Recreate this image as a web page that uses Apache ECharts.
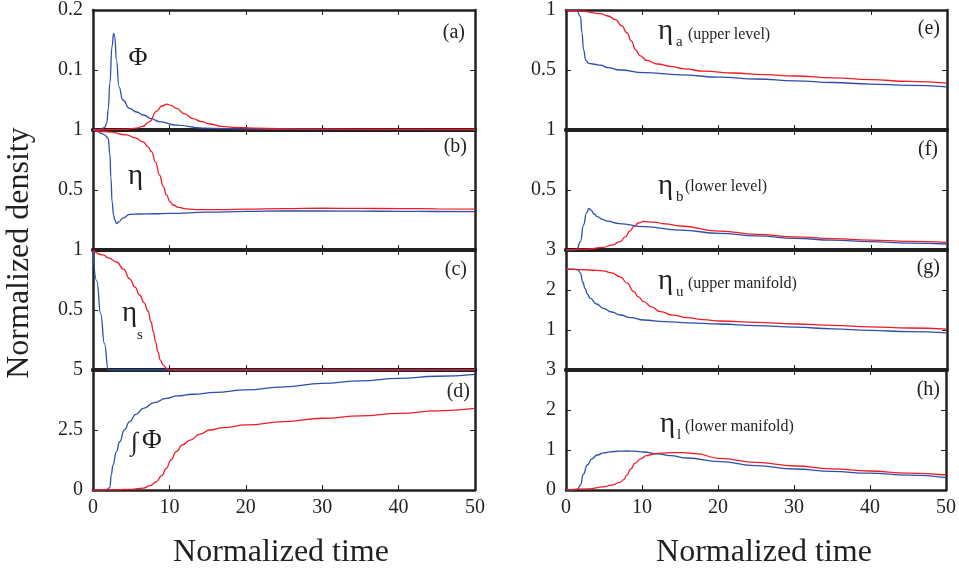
<!DOCTYPE html>
<html><head><meta charset="utf-8">
<script src="https://cdn.jsdelivr.net/npm/echarts@6/dist/echarts.min.js"></script>
<style>html,body{margin:0;padding:0;background:#fff}#c{width:959px;height:571px}</style>
</head><body><div id="c"></div>
<script>
// ---- data: [normalized time, value] ----
const phiBlue = [[0,0],[1,0.001],[1.5,0.004],[1.8,0.011],[2.0,0.035],[2.2,0.078],[2.5,0.14],[2.7,0.161],[2.85,0.155],[3.07,0.117],[3.4,0.072],[3.9,0.05],[4.8,0.036],[5.7,0.03],[6.6,0.025],[7.6,0.019],[8.7,0.014],[10.9,0.008],[14.4,0.003],[20,0.0015],[30,0.001],[50,0.0005]];
const phiRed  = [[0,0],[4,0.001],[5.7,0.003],[6.5,0.006],[7.4,0.014],[8.3,0.031],[9,0.04],[9.7,0.043],[10.2,0.041],[10.9,0.036],[12,0.027],[13.1,0.019],[14.2,0.014],[15.3,0.01],[16.8,0.006],[18.3,0.0045],[21,0.003],[25,0.002],[35,0.0012],[50,0.0008]];

const etaBlue = [[0,1],[0.5,0.99],[1,0.975],[1.5,0.96],[2.0,0.93],[2.2,0.8],[2.35,0.6],[2.5,0.4],[2.7,0.29],[2.85,0.25],[3.1,0.22],[3.4,0.235],[3.9,0.265],[4.8,0.297],[6,0.3],[8,0.302],[10,0.305],[15,0.315],[20,0.322],[25,0.325],[30,0.325],[35,0.324],[40,0.322],[45,0.321],[50,0.32]];
const etaRed  = [[0,1],[2,0.985],[4.4,0.96],[5.5,0.935],[6.6,0.9],[7.2,0.86],[7.65,0.82],[8.2,0.73],[8.7,0.625],[9.2,0.53],[9.6,0.46],[10.1,0.4],[10.5,0.375],[11.2,0.355],[12.2,0.342],[14,0.336],[17,0.337],[20,0.34],[25,0.345],[30,0.348],[35,0.347],[40,0.345],[45,0.343],[50,0.34]];

const etaSBlue = [[0,1],[0.5,0.74],[1,0.47],[1.5,0.22],[2.0,0],[10,0],[50,0]];
const etaSRed  = [[0,1],[1.3,0.96],[2,0.935],[3.1,0.9],[4,0.84],[4.8,0.76],[5.5,0.69],[6.1,0.625],[6.7,0.56],[7.2,0.49],[7.6,0.4],[7.9,0.32],[8.2,0.23],[8.5,0.15],[8.8,0.085],[9.2,0.04],[9.6,0.015],[10,0.003],[11,0],[50,0]];

const intBlue = [[0,0],[1,0],[1.8,0.02],[2.2,0.1],[2.4,0.63],[2.6,1.04],[3.07,1.6],[3.5,2.01],[4.1,2.5],[4.8,2.85],[5.6,3.15],[6.6,3.4],[8,3.64],[9.6,3.82],[11,3.92],[13.1,3.99],[16,4.07],[20,4.17],[25,4.3],[30,4.44],[35,4.55],[40,4.65],[45,4.74],[50,4.82]];
const intRed  = [[0,0],[3,0.01],[5,0.03],[6.6,0.08],[7.5,0.18],[8.3,0.35],[9,0.6],[9.6,0.9],[10.2,1.25],[10.9,1.6],[11.7,1.88],[12.7,2.08],[14,2.33],[15.3,2.5],[17,2.6],[20.1,2.71],[25,2.85],[30.1,2.99],[35,3.09],[40.2,3.19],[45,3.3],[50,3.4]];

const etaABlue = [[0,1],[1,1],[1.4,0.995],[1.9,0.944],[2.1,0.81],[2.3,0.67],[2.6,0.58],[3,0.556],[3.5,0.55],[4.5,0.54],[5.5,0.52],[7.1,0.5],[10.2,0.478],[15,0.46],[20.2,0.44],[25,0.425],[30.1,0.41],[35,0.396],[39.9,0.383],[45,0.372],[50,0.36]];
const etaARed  = [[0,1],[2,0.99],[4.5,0.97],[5.5,0.95],[6.5,0.92],[7.3,0.87],[8,0.81],[8.6,0.74],[9.1,0.67],[9.7,0.62],[10.6,0.58],[12,0.55],[13.7,0.53],[15.5,0.51],[18.1,0.49],[22,0.475],[26,0.462],[30.1,0.45],[35,0.435],[39.9,0.42],[45,0.405],[50,0.39]];

const etaBBlue = [[0,0],[1,0],[1.4,0.005],[1.9,0.07],[2.3,0.21],[2.7,0.31],[3.0,0.347],[3.3,0.33],[3.7,0.3],[4.1,0.278],[4.8,0.255],[5.4,0.24],[7,0.22],[10.2,0.194],[15,0.165],[20.2,0.139],[25,0.118],[30.1,0.097],[35,0.082],[39.9,0.069],[45,0.058],[50,0.05]];
const etaBRed  = [[0,0],[3,0.008],[4.9,0.022],[6,0.04],[7.1,0.07],[7.8,0.11],[8.4,0.16],[8.9,0.195],[9.5,0.225],[10.2,0.238],[11.5,0.232],[13,0.218],[15,0.2],[20.2,0.158],[25,0.13],[30.1,0.11],[35,0.095],[39.9,0.083],[45,0.072],[50,0.064]];

const etaUBlue = [[0,2.52],[1,2.52],[1.6,2.5],[1.9,2.42],[2.2,2.2],[2.5,2.04],[2.8,1.9],[3.2,1.79],[4,1.65],[4.9,1.54],[6,1.45],[7.1,1.375],[8.5,1.31],[10.2,1.25],[13,1.21],[16,1.18],[20.2,1.15],[25,1.11],[30.1,1.07],[35,1.03],[39.9,0.99],[45,0.96],[50,0.93]];
const etaURed  = [[0,2.52],[2,2.51],[4,2.49],[4.9,2.48],[6,2.43],[7.1,2.33],[8,2.18],[8.9,1.96],[9.5,1.83],[10.2,1.71],[11.2,1.58],[12.4,1.46],[14,1.37],[15.9,1.31],[18,1.26],[20.2,1.225],[25,1.19],[30.1,1.15],[35,1.115],[39.9,1.08],[45,1.05],[50,1.02]];

const etaLBlue = [[0,0],[1,0.005],[1.5,0.02],[1.9,0.125],[2.3,0.4],[2.8,0.625],[3.4,0.78],[4.1,0.875],[5,0.93],[5.8,0.955],[7,0.97],[8,0.975],[9,0.97],[10.2,0.95],[12,0.905],[13.7,0.86],[16,0.8],[20.2,0.71],[25,0.61],[30.1,0.525],[35,0.465],[39.9,0.42],[45,0.37],[50,0.31]];
const etaLRed  = [[0,0],[3,0.03],[4.9,0.08],[6,0.12],[7.1,0.19],[7.6,0.26],[8,0.37],[8.5,0.52],[9.1,0.67],[9.8,0.78],[10.6,0.86],[11.5,0.9],[12.4,0.92],[14,0.935],[15.5,0.935],[17,0.91],[20.2,0.79],[25,0.69],[30.1,0.6],[35,0.53],[39.9,0.475],[45,0.42],[50,0.375]];

// axis ranges per panel (a..h)
const xMin = 0, xMax = 50, xStep = 10;
const yMaxes = [0.2, 1, 1, 5, 1, 1, 3, 3];
const ySteps = [0.1, 0.5, 0.5, 2.5, 0.5, 0.5, 1, 1];
const panelLabels = ['(a)','(b)','(c)','(d)','(e)','(f)','(g)','(h)'];
const blueSeries = [phiBlue, etaBlue, etaSBlue, intBlue, etaABlue, etaBBlue, etaUBlue, etaLBlue];
const redSeries  = [phiRed, etaRed, etaSRed, intRed, etaARed, etaBRed, etaURed, etaLRed];

const INK = '#231f20', BLUE = '#2c4fab', RED = '#ee1c24';
const FONT = '"Liberation Serif","Times New Roman",serif';

const grids = [], xAxes = [], yAxes = [], series = [];
for (let i = 0; i < 8; i++) {
  const col = i < 4 ? 0 : 1, row = i % 4;
  grids.push({left: col ? 566 : 93, top: 10 + row * 120, width: col ? 381 : 382, height: 120, containLabel: false});
  const tick = {show: true, inside: true, length: 5, lineStyle: {color: INK, width: 1}};
  const wBottom = row < 3 ? 4 : 2.5, wTop = row > 0 ? 4 : 2.5;
  xAxes.push({gridIndex: i, type: 'value', position: 'bottom', min: xMin, max: xMax, interval: xStep,
    axisLine: {show: true, onZero: false, lineStyle: {color: INK, width: wBottom}}, axisTick: tick,
    axisLabel: {show: row === 3, color: INK, fontFamily: FONT, fontSize: 20, margin: 8},
    splitLine: {show: false}});
  xAxes.push({gridIndex: i, type: 'value', position: 'top', min: xMin, max: xMax, interval: xStep,
    axisLine: {show: true, onZero: false, lineStyle: {color: INK, width: wTop}}, axisTick: tick,
    axisLabel: {show: false}, splitLine: {show: false}});
  yAxes.push({gridIndex: i, type: 'value', position: 'left', min: 0, max: yMaxes[i], interval: ySteps[i],
    axisLine: {show: true, onZero: false, lineStyle: {color: INK, width: 2.5}}, axisTick: tick,
    axisLabel: {color: INK, fontFamily: FONT, fontSize: 20, margin: 10, showMinLabel: row === 3},
    splitLine: {show: false}});
  yAxes.push({gridIndex: i, type: 'value', position: 'right', min: 0, max: yMaxes[i], interval: ySteps[i],
    axisLine: {show: true, onZero: false, lineStyle: {color: INK, width: 2.5}}, axisTick: tick,
    axisLabel: {show: false}, splitLine: {show: false}});
  [[blueSeries[i], BLUE], [redSeries[i], RED]].forEach(([d, c]) => {
    series.push({type: 'line', xAxisIndex: 2 * i, yAxisIndex: 2 * i, data: d, showSymbol: false,
      smooth: 0.5, smoothMonotone: 'x', clip: true, lineStyle: {color: c, width: 1.3}, silent: true});
  });
}

// text helper: x, baseline y
function t(x, base, text, fs, align, extra) {
  return Object.assign({type: 'text', x: x, y: base - 0.34 * fs, silent: true,
    style: {text: text, fill: INK, font: fs + 'px ' + FONT, textAlign: align || 'left', textVerticalAlign: 'middle', verticalAlign: 'middle'}}, extra || {});
}
const labelPos = [[465,40],[467,154],[467,277],[470,399],[940,36],[938,157],[940,275],[940,397]];
const graphic = [];
panelLabels.forEach((s, i) => graphic.push(t(labelPos[i][0], labelPos[i][1], s, 20, 'right')));
graphic.push(
  t(138, 67, 'Φ', 26, 'center'),
  t(128, 186, 'η', 29),
  t(122, 323, 'η', 29), t(137, 340, 's', 15),
  t(131, 452, '∫', 26), t(142, 450, 'Φ', 27),
  t(658, 41, 'η', 29), t(676, 47, 'a', 15), t(688, 40, '(upper level)', 16),
  t(658, 196, 'η', 29), t(676, 202, 'b', 15), t(685, 192, '(lower level)', 16),
  t(658, 291, 'η', 29), t(676, 297, 'u', 15), t(688, 289, '(upper manifold)', 16),
  t(660, 434, 'η', 29), t(677, 440, 'l', 15), t(685, 432, '(lower manifold)', 16),
  t(281, 563, 'Normalized time', 32, 'center'),
  t(764, 563, 'Normalized time', 32, 'center'),
  {type: 'text', x: 20, y: 253, rotation: Math.PI / 2, silent: true,
   style: {text: 'Normalized density', fill: INK, font: '32px ' + FONT, textAlign: 'center', textVerticalAlign: 'middle', verticalAlign: 'middle'}}
);

const chart = echarts.init(document.getElementById('c'), null, {renderer: 'canvas'});
chart.setOption({animation: false, backgroundColor: '#fff', grid: grids, xAxis: xAxes, yAxis: yAxes, series: series, graphic: graphic});
</script></body></html>
